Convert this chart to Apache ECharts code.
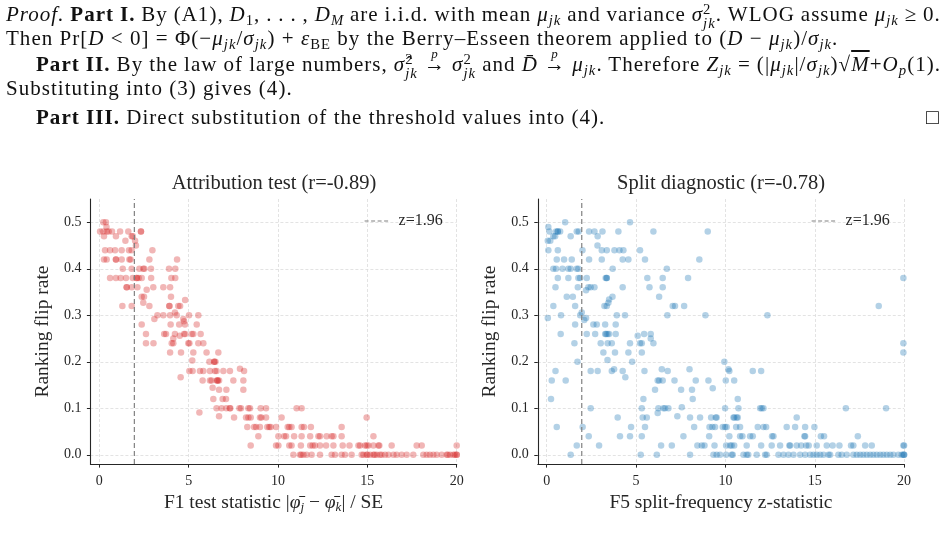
<!DOCTYPE html>
<html><head><meta charset="utf-8">
<script src="https://cdn.jsdelivr.net/npm/echarts@6/dist/echarts.min.js"></script>
<style>
html,body{margin:0;padding:0;background:#fff;}
#wrap{position:relative;width:948px;height:543px;overflow:hidden;background:#fff;}
#chart{position:absolute;left:0;top:0;width:948px;height:543px;}
#proof{position:absolute;left:0;top:0;width:948px;height:140px;font-family:"Liberation Serif","DejaVu Serif",serif;font-size:21px;color:#111;}
.ln{position:absolute;left:6px;white-space:nowrap;line-height:22px;}
i{font-style:italic;}
sub{font-size:0.7em;vertical-align:-0.28em;line-height:0;}
.ss{display:inline-block;vertical-align:-0.5em;font-size:0.7em;line-height:0.95em;text-align:left;}
.ss>span{display:block;}
.arr{position:relative;display:inline-block;}
.arr .p{position:absolute;left:0;right:0;top:-0.75em;text-align:center;font-size:0.62em;font-style:italic;}
.ov{text-decoration:overline;}
</style></head>
<body>
<div id="wrap">
<div id="chart"></div>
<div id="proof">
  <div class="ln fit" data-w="935" style="top:3px"><i>Proof.</i> <b>Part I.</b> By (A1), <i>D</i><sub>1</sub>, . . . , <i>D</i><sub><i>M</i></sub> are i.i.d. with mean <i>μ</i><sub><i>jk</i></sub> and variance <i>σ</i><span class="ss"><span>2</span><span><i>jk</i></span></span>. WLOG assume <i>μ</i><sub><i>jk</i></sub> ≥ 0.</div>
  <div class="ln" id="ref2" style="top:27px">Then Pr[<i>D</i> &lt; 0] = Φ(−<i>μ</i><sub><i>jk</i></sub>/<i>σ</i><sub><i>jk</i></sub>) + <i>ε</i><sub>BE</sub> by the Berry–Esseen theorem applied to (<i>D</i> − <i>μ</i><sub><i>jk</i></sub>)/<i>σ</i><sub><i>jk</i></sub>.</div>
  <div class="ln fit" data-w="905" style="top:53px;left:36px"><b>Part II.</b> By the law of large numbers, <i>σ̂</i><span class="ss"><span>2</span><span><i>jk</i></span></span> <span class="arr"><span class="p">p</span>→</span> <i>σ</i><span class="ss"><span>2</span><span><i>jk</i></span></span> and <i>D̄</i> <span class="arr"><span class="p">p</span>→</span> <i>μ</i><sub><i>jk</i></sub>. Therefore <i>Z</i><sub><i>jk</i></sub> = (|<i>μ</i><sub><i>jk</i></sub>|/<i>σ</i><sub><i>jk</i></sub>)√<i class="ov">M</i>+<i>O</i><sub><i>p</i></sub>(1).</div>
  <div class="ln" style="top:77px">Substituting into (3) gives (4).</div>
  <div class="ln" style="top:106px;left:36px"><b>Part III.</b> Direct substitution of the threshold values into (4).</div>
  <div class="ln" style="top:106px;left:926px;letter-spacing:0">□</div>
</div>
</div>
<script>
// ---- Data ----
const xTicks = [0, 5, 10, 15, 20];
const yTicks = [0, 0.1, 0.2, 0.3, 0.4, 0.5];
const zThreshold = 1.96;

// Attribution test (F1): flip-rate levels and the F1 statistics observed at each level
const attrLevels = [0.50, 0.49, 0.48, 0.47, 0.46, 0.45, 0.44, 0.42, 0.40, 0.38, 0.36, 0.355, 0.34, 0.333, 0.327, 0.32, 0.306, 0.30, 0.292, 0.287, 0.28, 0.26, 0.256, 0.25, 0.24, 0.22, 0.203, 0.20, 0.185, 0.18, 0.167, 0.16, 0.144, 0.14, 0.12, 0.10, 0.091, 0.083, 0.08, 0.06, 0.04, 0.02, 0.00];
const attrStats = [
  [0.22, 0.37],
  [0.40],
  [0.04, 0.22, 0.41, 0.52, 0.71, 1.16, 1.62, 2.33, 2.33],
  [0.26, 0.93, 1.81, 1.87],
  [1.46, 2.00],
  [2.05],
  [0.32, 0.60, 0.88, 1.25, 1.66, 1.81, 2.97],
  [0.26, 0.41, 0.93, 0.93, 1.25, 1.68, 1.75, 2.80, 4.35],
  [1.31, 1.81, 2.24, 2.46, 2.52, 2.89, 3.90, 4.25],
  [0.60, 0.93, 1.19, 1.49, 1.87, 2.09, 2.09, 2.20, 2.37, 2.90, 4.03, 4.25],
  [1.53, 1.53, 1.81, 2.13, 3.02, 3.58, 3.96],
  [2.65],
  [2.37, 2.50, 4.01],
  [4.80],
  [2.46],
  [1.29, 1.81, 2.80, 3.92, 3.92, 4.42, 4.52],
  [4.23],
  [3.25, 3.58, 3.96, 4.33, 5.02, 5.54],
  [3.08, 4.70],
  [4.74],
  [2.37, 3.99, 4.47, 4.79, 5.45],
  [2.61, 3.63, 3.73, 4.23, 4.74, 4.81, 5.17, 5.26, 5.67],
  [4.50],
  [4.14],
  [2.61, 3.03, 4.05, 4.14, 4.98, 5.04, 5.54, 5.82],
  [3.96, 4.57, 5.26, 6.00, 6.66],
  [5.20],
  [6.16, 6.43, 6.43, 6.50],
  [7.87],
  [5.04, 5.22, 5.63, 5.82, 6.19, 6.47, 6.56, 6.94, 7.31, 8.10],
  [4.55],
  [5.78, 6.19, 6.28, 6.56, 6.62, 6.62, 6.70, 7.50, 8.06],
  [6.34],
  [6.70, 7.11, 8.06],
  [6.38, 6.90, 7.09],
  [6.56, 6.84, 7.11, 7.30, 7.33, 7.84, 7.93, 8.34, 8.43, 9.03, 9.33, 11.04, 11.32],
  [5.60],
  [6.70],
  [7.54, 8.21, 8.34, 8.47, 8.99, 9.07, 9.33, 10.20, 14.96],
  [8.28, 8.66, 8.77, 8.99, 9.40, 9.51, 9.59, 9.89, 10.54, 10.63, 10.76, 11.32, 11.45, 11.84, 13.56],
  [8.90, 10.02, 10.34, 10.45, 10.90, 11.32, 11.80, 12.26, 12.35, 12.72, 13.00, 13.10, 13.56, 15.34],
  [8.47, 9.89, 10.02, 10.63, 10.76, 11.28, 11.80, 11.94, 12.07, 12.35, 12.69, 13.10, 13.62, 14.00, 14.50, 14.59, 14.87, 14.96, 15.06, 15.34, 15.62, 15.67, 16.36, 17.76, 18.04, 20.00],
  [10.86, 11.23, 11.30, 11.42, 11.60, 11.88, 12.35, 13.00, 13.19, 13.56, 13.75, 14.12, 14.68, 14.78, 14.96, 15.00, 15.15, 15.34, 15.40, 15.52, 15.70, 15.80, 15.99, 16.18, 16.46, 16.64, 16.92, 17.20, 17.57, 18.13, 18.32, 18.50, 18.69, 18.88, 19.16, 19.44, 19.50, 19.63, 19.81, 19.90, 20.00, 20.00]
];

// Split diagnostic (F5): flip-rate levels and the F5 z-statistics observed at each level
const splitLevels = [0.50, 0.49, 0.48, 0.47, 0.46, 0.45, 0.44, 0.42, 0.40, 0.38, 0.36, 0.354, 0.34, 0.334, 0.327, 0.32, 0.306, 0.30, 0.294, 0.29, 0.28, 0.26, 0.256, 0.25, 0.24, 0.22, 0.204, 0.20, 0.184, 0.18, 0.167, 0.16, 0.143, 0.14, 0.12, 0.102, 0.10, 0.09, 0.083, 0.08, 0.06, 0.04, 0.02, 0.00];
const splitStats = [
  [1.03, 4.66],
  [0.09],
  [0.15, 0.52, 0.62, 0.62, 0.75, 1.68, 1.79, 2.37, 2.67, 3.12, 4.01, 5.97, 9.01],
  [0.37, 0.47, 1.34, 2.85],
  [0.06, 0.20],
  [2.84],
  [0.09, 0.62, 2.00, 3.08, 3.36, 3.79, 4.07, 4.29, 5.22],
  [0.56, 0.97, 1.40, 2.37, 3.08, 4.25, 4.57, 5.50, 8.54],
  [0.37, 0.52, 0.88, 1.21, 1.34, 1.68, 1.77, 3.69, 6.72],
  [0.62, 1.21, 1.77, 1.87, 2.24, 3.30, 3.36, 3.36, 5.63, 6.49, 7.91, 19.96],
  [0.49, 1.74, 2.33, 2.46, 2.67, 4.25, 5.75, 6.49],
  [2.20],
  [1.12, 1.46, 3.68, 6.29],
  [3.49],
  [3.45],
  [0.37, 1.59, 3.23, 3.36, 7.05, 7.18, 7.69, 18.58],
  [1.96],
  [0.80, 1.87, 3.92, 4.38, 6.75, 8.88, 12.35],
  [0.06, 2.20],
  [2.10],
  [1.59, 2.61, 2.80, 3.27, 3.86],
  [0.78, 2.24, 2.71, 3.27, 3.32, 3.40, 3.49, 3.86, 5.45, 5.82],
  [5.09],
  [5.82],
  [1.55, 3.02, 3.41, 3.64, 4.66, 5.22, 5.32, 5.97, 19.96],
  [3.17, 3.82, 4.57, 5.32, 19.96],
  [3.40],
  [1.72, 4.78, 9.94],
  [3.77, 6.44, 7.99, 10.17],
  [0.49, 2.46, 2.85, 3.64, 4.25, 5.47, 6.77, 10.22, 11.53, 12.00],
  [4.40],
  [0.28, 1.06, 6.21, 6.29, 6.49, 7.15, 8.34, 9.05, 10.02, 10.49],
  [9.29],
  [6.06, 7.52, 8.13],
  [0.24, 5.41, 8.17, 10.69],
  [7.56],
  [2.46, 5.32, 6.25, 6.53, 6.62, 6.81, 9.98, 10.73, 11.94, 12.03, 12.13, 16.74, 18.99],
  [6.21],
  [7.31],
  [3.97, 5.37, 5.60, 8.02, 8.58, 9.20, 9.46, 9.51, 10.45, 10.50, 10.63, 10.69, 13.99],
  [0.56, 2.01, 4.72, 5.50, 8.25, 9.11, 9.27, 9.42, 9.85, 9.98, 10.07, 10.60, 10.82, 11.81, 12.13, 12.28, 13.43, 13.90, 14.46, 14.98],
  [2.35, 4.10, 4.66, 5.32, 7.65, 9.09, 10.22, 10.82, 10.95, 11.38, 11.53, 12.61, 12.69, 14.42, 14.46, 15.34, 15.52, 17.41],
  [1.68, 2.93, 6.40, 7.00, 8.43, 8.68, 8.83, 9.39, 10.04, 10.26, 10.35, 10.49, 11.19, 12.00, 12.59, 13.06, 13.58, 13.62, 13.99, 14.24, 14.52, 14.66, 15.11, 15.67, 16.00, 16.38, 17.03, 17.16, 17.82, 18.19, 19.96, 20.00],
  [1.34, 5.26, 6.16, 8.02, 9.33, 9.51, 9.70, 10.04, 10.35, 10.41, 11.01, 11.19, 11.28, 11.75, 12.22, 12.31, 12.97, 13.25, 13.53, 13.81, 14.18, 14.46, 14.74, 14.93, 15.11, 15.30, 15.49, 15.77, 15.86, 16.32, 16.51, 16.79, 17.16, 17.35, 17.54, 17.72, 17.91, 18.10, 18.28, 18.47, 18.66, 18.84, 19.03, 19.22, 19.40, 19.68, 19.87, 19.96, 20.00, 20.00]
];

const titles = ['Attribution test (r=-0.89)', 'Split diagnostic (r=-0.78)'];
const yName = 'Ranking flip rate';
const legendName = 'z=1.96';

// ---- Proof text: spread letters / words like the typeset original ----
(function fitProof() {
  const proof = document.getElementById('proof');
  const ref = document.getElementById('ref2');
  const natural = ref.getBoundingClientRect().width;
  const chars = ref.textContent.length;
  const ls = Math.max(0, (832 - natural) / chars);
  proof.style.letterSpacing = ls.toFixed(2) + 'px';
  document.querySelectorAll('.fit').forEach(el => {
    const target = parseFloat(el.dataset.w);
    const w = el.getBoundingClientRect().width;
    const spaces = (el.textContent.match(/ /g) || []).length;
    if (spaces > 0) el.style.wordSpacing = ((target - w) / spaces).toFixed(2) + 'px';
  });
})();

// ---- Build chart ----
function toPairs(levels, stats) {
  const out = [];
  levels.forEach((y, i) => stats[i].forEach(x => out.push([x, y])));
  return out;
}
const attrPts = toPairs(attrLevels, attrStats);
const splitPts = toPairs(splitLevels, splitStats);

const SERIF = '"Liberation Serif", "DejaVu Serif", serif';
const INK = '#262626';
const xMin = -0.5, xMax = 20, yMin = -0.02, yMax = 0.55;

const nameRich = {
  t: {fontFamily: SERIF, fontSize: 19.5, color: INK, lineHeight: 22},
  m: {fontFamily: SERIF, fontSize: 19.5, color: INK, fontStyle: 'italic', lineHeight: 22},
  s: {fontFamily: SERIF, fontSize: 13, color: INK, fontStyle: 'italic', lineHeight: 12, verticalAlign: 'bottom'}
};

function xAxis(gi, name) {
  return {
    type: 'value', gridIndex: gi, min: xMin, max: xMax,
    axisLine: {show: true, onZero: false, lineStyle: {color: INK, width: 1.1}},
    axisTick: {show: true, length: 3.5, customValues: xTicks, lineStyle: {color: INK, width: 1}},
    axisLabel: {customValues: xTicks, margin: 10, fontFamily: SERIF, fontSize: 14, color: INK},
    splitLine: {show: true, lineStyle: {color: '#dcdcdc', type: [3, 2], width: 0.8}},
    name: name, nameLocation: 'middle', nameGap: 28,
    nameTextStyle: {fontFamily: SERIF, fontSize: 19.5, color: INK, lineHeight: 22, rich: nameRich}
  };
}
function yAxis(gi) {
  return {
    type: 'value', gridIndex: gi, min: yMin, max: yMax,
    axisLine: {show: true, onZero: false, lineStyle: {color: INK, width: 1.1}},
    axisTick: {show: true, length: 3.5, customValues: yTicks, lineStyle: {color: INK, width: 1}},
    axisLabel: {customValues: yTicks, margin: 9, fontFamily: SERIF, fontSize: 14, color: INK,
      formatter: v => v.toFixed(1)},
    splitLine: {show: true, lineStyle: {color: '#dcdcdc', type: [3, 2], width: 0.8}},
    name: yName, nameLocation: 'middle', nameGap: 38,
    nameTextStyle: {fontFamily: SERIF, fontSize: 19.5, color: INK}
  };
}
function zLine(gi) {
  return {
    type: 'line', name: legendName, xAxisIndex: gi, yAxisIndex: gi,
    data: [[zThreshold, yMin], [zThreshold, yMax]],
    symbol: 'none', silent: true, z: 5,
    lineStyle: {color: '#808080', width: 1.2, type: [5, 3]},
    itemStyle: {color: '#808080'}
  };
}
function legend(left) {
  return {
    data: [legendName], left: left, top: 213, padding: 0, itemWidth: 24, itemHeight: 14,
    selectedMode: false,
    itemStyle: {opacity: 0},
    lineStyle: {color: '#808080', width: 1.2, type: [4, 2.5]},
    textStyle: {fontFamily: SERIF, fontSize: 16, color: INK, padding: [0, 0, 0, 5]}
  };
}

const chart = echarts.init(document.getElementById('chart'), null, {renderer: 'canvas', width: 948, height: 543});
chart.setOption({
  animation: false,
  backgroundColor: '#fff',
  title: [
    {text: titles[0], left: 274, top: 173, textAlign: 'center', padding: 0,
     textStyle: {fontFamily: SERIF, fontSize: 20.5, fontWeight: 'normal', color: INK}},
    {text: titles[1], left: 721, top: 173, textAlign: 'center', padding: 0,
     textStyle: {fontFamily: SERIF, fontSize: 20.5, fontWeight: 'normal', color: INK}}
  ],
  legend: [legend(364), legend(811)],
  grid: [
    {left: 90.4, top: 199, width: 366.3, height: 265.1, containLabel: false, outerBoundsMode: 'none'},
    {left: 537.8, top: 199, width: 366.3, height: 265.1, containLabel: false, outerBoundsMode: 'none'}
  ],
  xAxis: [
    xAxis(0, '{t|F1 test statistic |}{m|φ̄}{s|j}{t| − }{m|φ̄}{s|k}{t|| / SE}'),
    xAxis(1, 'F5 split-frequency z-statistic')
  ],
  yAxis: [yAxis(0), yAxis(1)],
  series: [
    {type: 'scatter', xAxisIndex: 0, yAxisIndex: 0, data: attrPts, symbolSize: 6.5, clip: false,
     itemStyle: {color: 'rgba(214,39,40,0.42)'}},
    {type: 'scatter', xAxisIndex: 1, yAxisIndex: 1, data: splitPts, symbolSize: 6.5, clip: false,
     itemStyle: {color: 'rgba(31,119,180,0.42)'}},
    zLine(0), zLine(1)
  ]
});
</script>
</body></html>
